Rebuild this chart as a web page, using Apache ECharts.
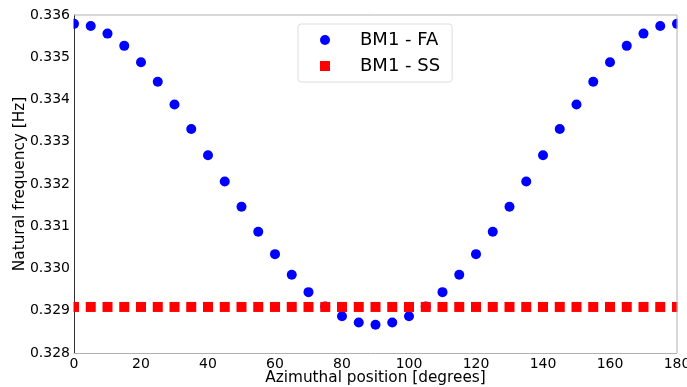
<!DOCTYPE html>
<html><head><meta charset="utf-8">
<script src="https://cdn.jsdelivr.net/npm/echarts@6/dist/echarts.min.js"></script>
<style>html,body{margin:0;padding:0;background:#fff}#c{width:687px;height:387px}</style>
</head><body><div id="c"></div>
<script>
const angles = [0,5,10,15,20,25,30,35,40,45,50,55,60,65,70,75,80,85,90,95,100,105,110,115,120,125,130,135,140,145,150,155,160,165,170,175,180];
const faValues = [0.33579,0.33574,0.33556,0.33527,0.33488,0.33442,0.33388,0.33330,0.33268,0.33206,0.33146,0.33087,0.33034,0.32985,0.32944,0.32910,0.32887,0.32872,0.32867,0.32872,0.32887,0.32910,0.32944,0.32985,0.33034,0.33087,0.33146,0.33206,0.33268,0.33330,0.33388,0.33442,0.33488,0.33527,0.33556,0.33574,0.33579];
const ssValues = angles.map(() => 0.32909);
const seriesNames = ['BM1 - FA','BM1 - SS'];
const yTicks = [0.328,0.329,0.330,0.331,0.332,0.333,0.334,0.335,0.336];

const font = 'DejaVu Sans';
const chart = echarts.init(document.getElementById('c'));
chart.setOption({
  animation:false,
  grid:{left:74,top:15,right:10,bottom:34,show:false,containLabel:false,outerBoundsMode:'none'},
  legend:{
    data:[{name:seriesNames[0],icon:'circle'},{name:seriesNames[1],icon:'rect'}],
    orient:'vertical', left:298, top:24,
    padding:[7,12,7,22], itemGap:8, itemWidth:10, itemHeight:10,
    borderColor:'#ddd', borderWidth:1, borderRadius:3,
    textStyle:{fontFamily:font,fontSize:18,color:'#000',padding:[0,0,0,25]}
  },
  xAxis:{type:'value',min:0,max:180,interval:20,
    name:'Azimuthal position [degrees]',nameLocation:'middle',nameGap:18,nameMoveOverlap:false,
    nameTextStyle:{fontFamily:font,fontSize:15.3,color:'#000'},
    axisLine:{onZero:false,lineStyle:{color:'#b0b0b0',width:1}},
    axisTick:{show:false},
    axisLabel:{fontFamily:font,fontSize:14,color:'#000',margin:4},
    splitLine:{show:false}},
  yAxis:{type:'value',min:0.328,max:0.336,interval:0.001,
    name:'Natural frequency [Hz]',nameLocation:'middle',nameGap:46,nameMoveOverlap:false,
    nameTextStyle:{fontFamily:font,fontSize:15.3,color:'#000'},
    axisLine:{lineStyle:{color:'#333',width:1}},
    axisTick:{show:false},
    axisLabel:{fontFamily:font,fontSize:14,color:'#000',margin:4,formatter:v=>v.toFixed(3)},
    splitLine:{show:false}},
  graphic:[
    {type:'rect',shape:{x:69,y:17,width:4.5,height:333},style:{fill:'#fff'},z:9},
    {type:'rect',shape:{x:677.5,y:10,width:10,height:345},style:{fill:'#fff'},z:9},
    {type:'line',shape:{x1:74,y1:15,x2:677,y2:15},style:{stroke:'#b0b0b0',lineWidth:1},z:10},
    {type:'line',shape:{x1:677,y1:15,x2:677,y2:353},style:{stroke:'#b0b0b0',lineWidth:1},z:10}
  ],
  series:[
    {name:seriesNames[0],type:'scatter',symbol:'circle',symbolSize:10,clip:true,
     itemStyle:{color:'#0000ff',opacity:1},data:angles.map((a,i)=>[a,faValues[i]]),z:2},
    {name:seriesNames[1],type:'scatter',symbol:'rect',symbolSize:10,clip:true,
     itemStyle:{color:'#ff0000',opacity:1},data:angles.map((a,i)=>[a,ssValues[i]]),z:3}
  ]
});
</script></body></html>
